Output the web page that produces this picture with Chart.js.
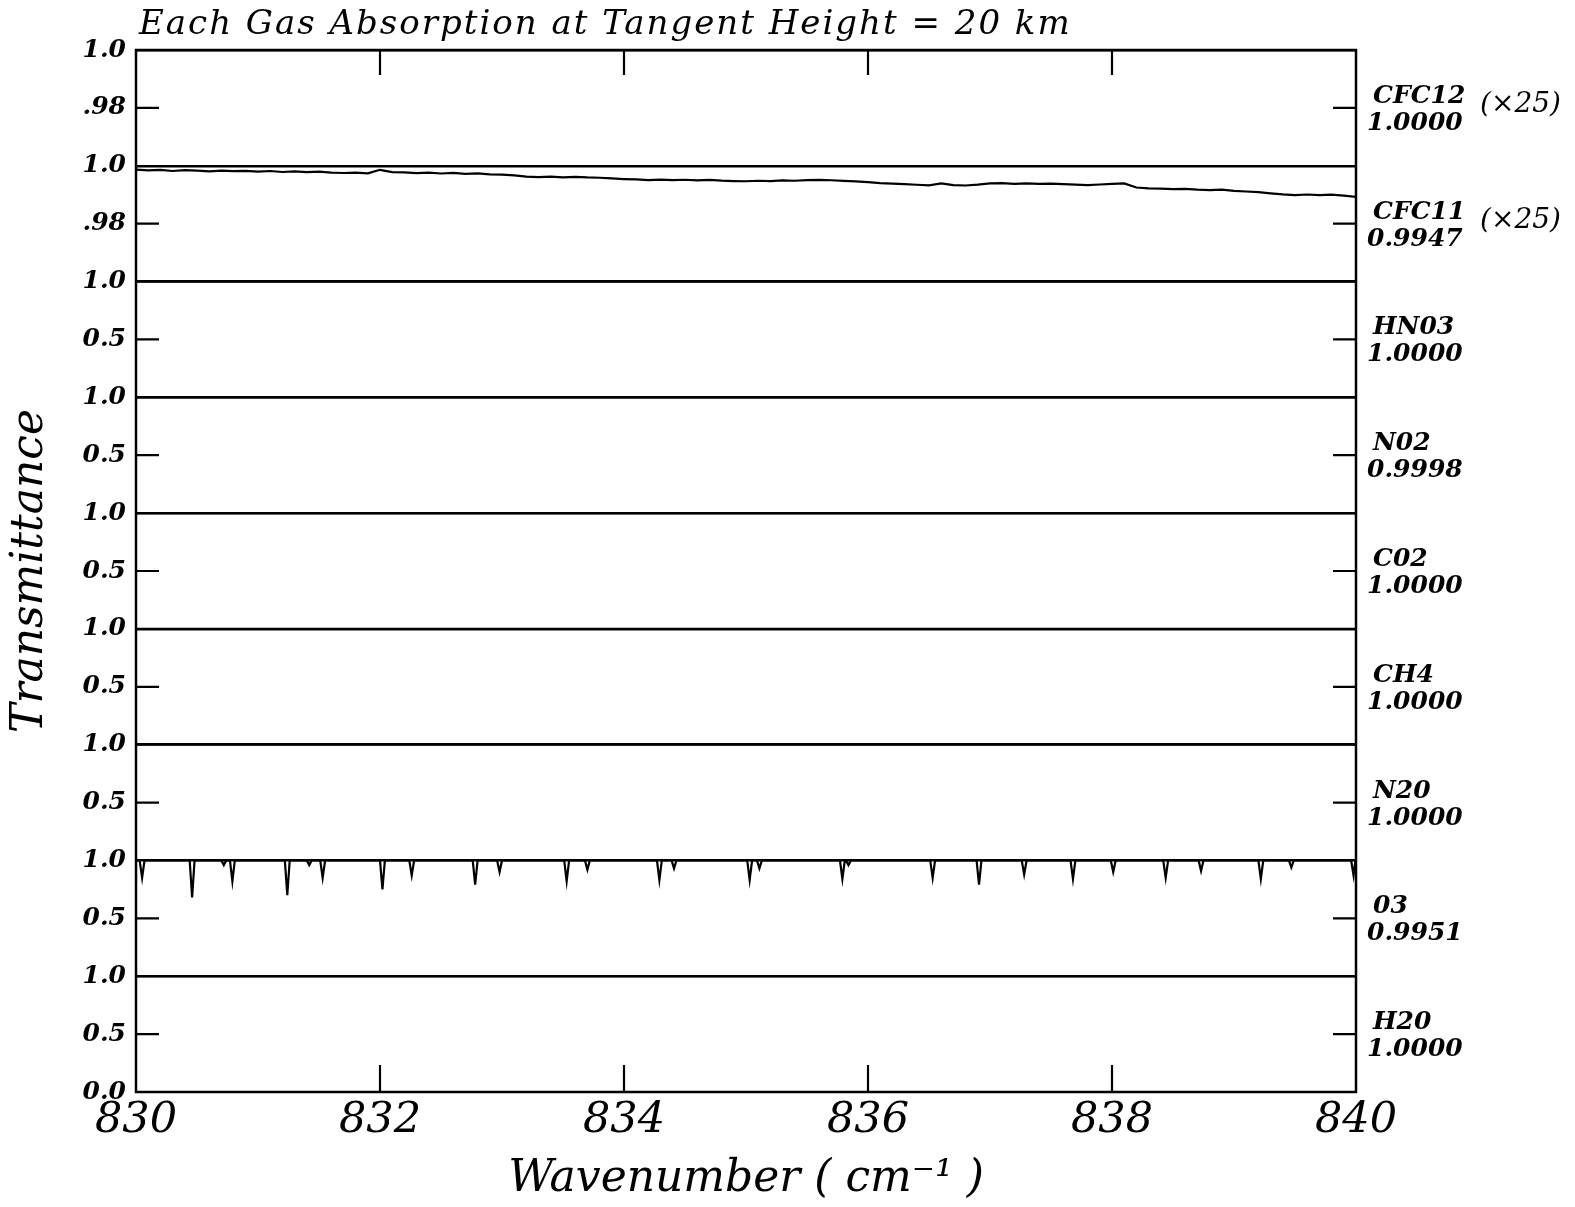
<!DOCTYPE html>
<html>
<head>
<meta charset="utf-8">
<script src="https://cdn.jsdelivr.net/npm/chart.js@4.4.1/dist/chart.umd.min.js"></script>
<style>
  body { margin: 0; background: #fff; }
  canvas { display: block; }
</style>
</head>
<body>
<canvas id="gasChart" width="1575" height="1207"></canvas>
<script>
// Transmittance of each gas, 830-840 cm-1, tangent height 20 km
const heading = 'Each Gas Absorption at Tangent Height = 20 km';
const wavenumberTicks = [830, 832, 834, 836, 838, 840];

const gasNames = ['CFC12', 'CFC11', 'HN03', 'N02', 'C02', 'CH4', 'N20', '03', 'H20'];
const meanTransmittance = ['1.0000', '0.9947', '1.0000', '0.9998', '1.0000', '1.0000', '1.0000', '0.9951', '1.0000'];
const scaleNotes = ['(×25)', '(×25)', '', '', '', '', '', '', ''];
const panelMin = [0.96, 0.96, 0, 0, 0, 0, 0, 0, 0];
const panelMid = [0.98, 0.98, 0.5, 0.5, 0.5, 0.5, 0.5, 0.5, 0.5];
const midLabels = ['.98', '.98', '0.5', '0.5', '0.5', '0.5', '0.5', '0.5', '0.5'];

// gases with no visible structure in this window
const flatWn = [830, 840];
const cfc12T = [1.0, 1.0];
const hno3T = [1.0, 1.0];
const no2T = [0.9998, 0.9998];
const co2T = [1.0, 1.0];
const ch4T = [1.0, 1.0];
const n2oT = [1.0, 1.0];
const h2oT = [1.0, 1.0];

const cfc11Wn = [
  830.0, 830.1, 830.2, 830.3, 830.4, 830.5, 830.6, 830.7, 830.8, 830.9,
  831.0, 831.1, 831.2, 831.3, 831.4, 831.5, 831.6, 831.7, 831.8, 831.9,
  832.0, 832.1, 832.2, 832.3, 832.4, 832.5, 832.6, 832.7, 832.8, 832.9,
  833.0, 833.1, 833.2, 833.3, 833.4, 833.5, 833.6, 833.7, 833.8, 833.9,
  834.0, 834.1, 834.2, 834.3, 834.4, 834.5, 834.6, 834.7, 834.8, 834.9,
  835.0, 835.1, 835.2, 835.3, 835.4, 835.5, 835.6, 835.7, 835.8, 835.9,
  836.0, 836.1, 836.2, 836.3, 836.4, 836.5, 836.6, 836.7, 836.8, 836.9,
  837.0, 837.1, 837.2, 837.3, 837.4, 837.5, 837.6, 837.7, 837.8, 837.9,
  838.0, 838.1, 838.2, 838.3, 838.4, 838.5, 838.6, 838.7, 838.8, 838.9,
  839.0, 839.1, 839.2, 839.3, 839.4, 839.5, 839.6, 839.7, 839.8, 839.9,
  840.0
];
const cfc11T = [
  0.99868, 0.99840, 0.99861, 0.99819, 0.99847, 0.99833, 0.99806, 0.99830, 0.99813, 0.99826,
  0.99799, 0.99819, 0.99785, 0.99806, 0.99778, 0.99795, 0.99764, 0.99750, 0.99760, 0.99740,
  0.99861, 0.99778, 0.99771, 0.99747, 0.99764, 0.99733, 0.99753, 0.99722, 0.99736, 0.99701,
  0.99691, 0.99667, 0.99625, 0.99611, 0.99622, 0.99601, 0.99618, 0.99597, 0.99587, 0.99563,
  0.99542, 0.99528, 0.99507, 0.99524, 0.99504, 0.99517, 0.99497, 0.99510, 0.99486, 0.99472,
  0.99465, 0.99483, 0.99469, 0.99493, 0.99483, 0.99504, 0.99514, 0.99500, 0.99476, 0.99458,
  0.99434, 0.99403, 0.99382, 0.99368, 0.99344, 0.99326, 0.99392, 0.99330, 0.99319, 0.99347,
  0.99389, 0.99403, 0.99378, 0.99392, 0.99375, 0.99385, 0.99365, 0.99347, 0.99333, 0.99354,
  0.99375, 0.99389, 0.99250, 0.99222, 0.99208, 0.99191, 0.99201, 0.99174, 0.99160, 0.99177,
  0.99135, 0.99111, 0.99090, 0.99049, 0.99010, 0.98986, 0.99007, 0.98983, 0.99004, 0.98972,
  0.98924
];

// ozone lines: shoulder, line centre, shoulder
const o3Wn = [
  830.000, 830.030, 830.050, 830.070,
  830.440, 830.460, 830.480,
  830.700, 830.720, 830.740,
  830.770, 830.790, 830.810,
  831.220, 831.240, 831.260,
  831.400, 831.420, 831.440,
  831.510, 831.530, 831.550,
  832.000, 832.020, 832.040,
  832.240, 832.260, 832.280,
  832.760, 832.780, 832.800,
  832.960, 832.980, 833.000,
  833.510, 833.530, 833.550,
  833.680, 833.700, 833.720,
  834.270, 834.290, 834.310,
  834.390, 834.410, 834.430,
  835.010, 835.030, 835.050,
  835.090, 835.110, 835.130,
  835.770, 835.790, 835.810,
  835.820, 835.840, 835.860,
  836.510, 836.530, 836.550,
  836.890, 836.910, 836.930,
  837.260, 837.280, 837.300,
  837.660, 837.680, 837.700,
  837.990, 838.010, 838.030,
  838.420, 838.440, 838.460,
  838.710, 838.730, 838.750,
  839.200, 839.220, 839.240,
  839.450, 839.470, 839.490,
  839.960, 839.980, 839.995, 840.000
];
const o3T = [
  1, 1, 0.85, 1,
  1, 0.68, 1,
  1, 0.96, 1,
  1, 0.82, 1,
  1, 0.70, 1,
  1, 0.96, 1,
  1, 0.85, 1,
  1, 0.75, 1,
  1, 0.87, 1,
  1, 0.79, 1,
  1, 0.90, 1,
  1, 0.82, 1,
  1, 0.92, 1,
  1, 0.83, 1,
  1, 0.93, 1,
  1, 0.83, 1,
  1, 0.93, 1,
  1, 0.84, 1,
  1, 0.96, 1,
  1, 0.85, 1,
  1, 0.79, 1,
  1, 0.88, 1,
  1, 0.84, 1,
  1, 0.90, 1,
  1, 0.85, 1,
  1, 0.91, 1,
  1, 0.84, 1,
  1, 0.94, 1,
  1, 0.87, 1, 1
];

const series = [
  [flatWn, cfc12T], [cfc11Wn, cfc11T], [flatWn, hno3T], [flatWn, no2T], [flatWn, co2T],
  [flatWn, ch4T], [flatWn, n2oT], [o3Wn, o3T], [flatWn, h2oT]
];

const tickFont = { family: 'DejaVu Serif', style: 'italic', weight: 'bold', size: 25 };

const datasets = series.map(([wn, t], i) => ({
  label: gasNames[i],
  data: wn.map((x, k) => ({ x: x, y: t[k] })),
  yAxisID: 'y' + i,
  borderColor: '#000',
  borderWidth: 2.2,
  pointRadius: 0,
  tension: 0,
  clip: false
}));

const scales = {
  x: {
    type: 'linear',
    min: 830,
    max: 840,
    afterBuildTicks: s => { s.ticks = wavenumberTicks.map(v => ({ value: v })); },
    afterFit: s => { s.height = 115; },
    grid: { display: false, drawTicks: false },
    border: { display: false },
    ticks: {
      color: '#000',
      padding: 3,
      maxRotation: 0,
      font: { family: 'DejaVu Serif', style: 'italic', size: 43 },
      callback: v => String(v)
    },
    title: {
      display: true,
      text: 'Wavenumber ( cm⁻¹ )',
      color: '#000',
      font: { family: 'DejaVu Serif', style: 'italic', size: 44 },
      padding: { top: 0, bottom: 1 }
    }
  }
};

gasNames.forEach((g, i) => {
  const last = i === gasNames.length - 1;
  scales['y' + i] = {
    type: 'linear',
    position: 'left',
    stack: 'panels',
    stackWeight: 1,
    weight: gasNames.length - i,
    min: panelMin[i],
    max: 1,
    afterBuildTicks: s => {
      const vals = last ? [panelMin[i], panelMid[i], 1] : [panelMid[i], 1];
      s.ticks = vals.map(v => ({ value: v }));
    },
    afterFit: s => { s.width = 136; },
    grid: {
      drawTicks: false,
      lineWidth: 2.5,
      color: c => (c.tick && c.tick.value === 1 ? '#000' : 'rgba(0,0,0,0)')
    },
    border: { display: false },
    ticks: {
      autoSkip: false,
      color: '#000',
      padding: 10,
      font: tickFont,
      callback: v => (v === 1 ? '1.0' : v === panelMid[i] ? midLabels[i] : '0.0')
    },
    title: {
      display: i === 4,
      text: 'Transmittance',
      color: '#000',
      font: { family: 'DejaVu Serif', style: 'italic', size: 44 },
      padding: { top: 4, bottom: 0 }
    }
  };
});

// frame, inner tick marks, gas labels and heading
const panelFrame = {
  id: 'panelFrame',
  afterDraw(chart) {
    const { ctx, chartArea: a, scales: sc } = chart;
    ctx.save();
    ctx.strokeStyle = '#000';
    ctx.fillStyle = '#000';
    ctx.lineWidth = 2.5;
    ctx.strokeRect(a.left, a.top, a.right - a.left, a.bottom - a.top);

    ctx.lineWidth = 2.2;
    ctx.beginPath();
    wavenumberTicks.slice(1, -1).forEach(v => {
      const x = sc.x.getPixelForValue(v);
      ctx.moveTo(x, a.top);
      ctx.lineTo(x, a.top + 25);
      ctx.moveTo(x, a.bottom);
      ctx.lineTo(x, a.bottom - 27);
    });
    gasNames.forEach((g, i) => {
      const y = sc['y' + i].getPixelForValue(panelMid[i]);
      ctx.moveTo(a.left, y);
      ctx.lineTo(a.left + 23, y);
      ctx.moveTo(a.right - 23, y);
      ctx.lineTo(a.right, y);
    });
    ctx.stroke();

    ctx.textAlign = 'left';
    ctx.textBaseline = 'alphabetic';
    gasNames.forEach((g, i) => {
      const y = sc['y' + i].getPixelForValue(panelMid[i]);
      ctx.font = 'italic bold 25px "DejaVu Serif"';
      ctx.fillText(g, a.right + 17, y - 5);
      ctx.fillText(meanTransmittance[i], a.right + 11, y + 22);
      if (scaleNotes[i]) {
        ctx.font = 'italic 28px "DejaVu Serif"';
        ctx.fillText(scaleNotes[i], a.right + 124, y + 4);
      }
    });

    ctx.font = 'italic 34px "DejaVu Serif"';
    ctx.letterSpacing = '2px';
    ctx.fillText(heading, a.left + 3, 34);
    ctx.restore();
  }
};

new Chart(document.getElementById('gasChart').getContext('2d'), {
  type: 'line',
  data: { datasets: datasets },
  options: {
    responsive: false,
    animation: false,
    devicePixelRatio: 1,
    layout: { padding: { top: 50, right: 219, bottom: 0, left: 0 } },
    plugins: {
      legend: { display: false },
      tooltip: { enabled: false }
    },
    events: [],
    scales: scales
  },
  plugins: [panelFrame]
});
</script>
</body>
</html>
